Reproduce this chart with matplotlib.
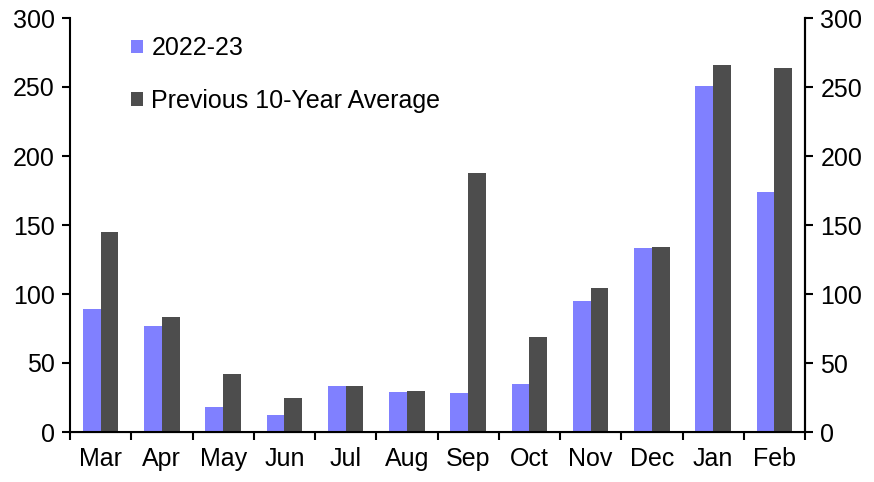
import matplotlib
matplotlib.use("Agg")
import matplotlib.pyplot as plt
import numpy as np

months = ["Mar", "Apr", "May", "Jun", "Jul", "Aug", "Sep", "Oct", "Nov", "Dec", "Jan", "Feb"]
series_2223 = [89, 77, 18, 12, 33, 29, 28, 35, 95, 133, 251, 174]
series_avg = [145, 83, 42, 25, 33, 30, 188, 69, 104, 134, 266, 264]
yticks = [0, 50, 100, 150, 200, 250, 300]

plt.rcParams['font.family'] = ['Liberation Sans', 'DejaVu Sans']
fs = 18

fig = plt.figure(figsize=(8.74, 4.82), dpi=100)
ax = fig.add_axes([70/874, 1-432/482, (805-70)/874, (432-18)/482])

x = np.arange(len(months))
w = 0.29
ax.bar(x - w/2, series_2223, w, color="#8080FF", label="2022-23")
ax.bar(x + w/2, series_avg, w, color="#4D4D4D", label="Previous 10-Year Average")

ax.set_xlim(-0.5, len(months) - 0.5)
ax.set_ylim(0, 300)
ax.set_yticks(yticks)
ax.tick_params(axis='y', direction='out', length=6, width=1.5, labelsize=fs, pad=5)
ax.set_xticks(np.arange(-0.5, len(months), 1.0))
ax.set_xticklabels([])
ax.set_xticks(x, minor=True)
ax.set_xticklabels(months, minor=True, fontsize=fs)
ax.tick_params(axis='x', which='major', direction='out', length=6, width=1.5)
ax.tick_params(axis='x', which='minor', length=0, pad=11)
for s in ['left', 'right', 'bottom']:
    ax.spines[s].set_linewidth(1.5)
ax.spines['top'].set_visible(False)

ax2 = ax.twinx()
ax2.set_ylim(0, 300)
ax2.set_yticks(yticks)
ax2.tick_params(axis='y', direction='out', length=6, width=1.5, labelsize=fs, pad=5)
ax2.spines['top'].set_visible(False)
ax2.spines['right'].set_linewidth(1.5)
ax2.spines['left'].set_visible(False)

leg = ax.legend(loc='upper left', bbox_to_anchor=(0.053, 1.01), frameon=False,
                fontsize=fs, handlelength=0.45, handleheight=0.45, handletextpad=0.35,
                labelspacing=1.15)

fig.savefig("out.png", dpi=100)
